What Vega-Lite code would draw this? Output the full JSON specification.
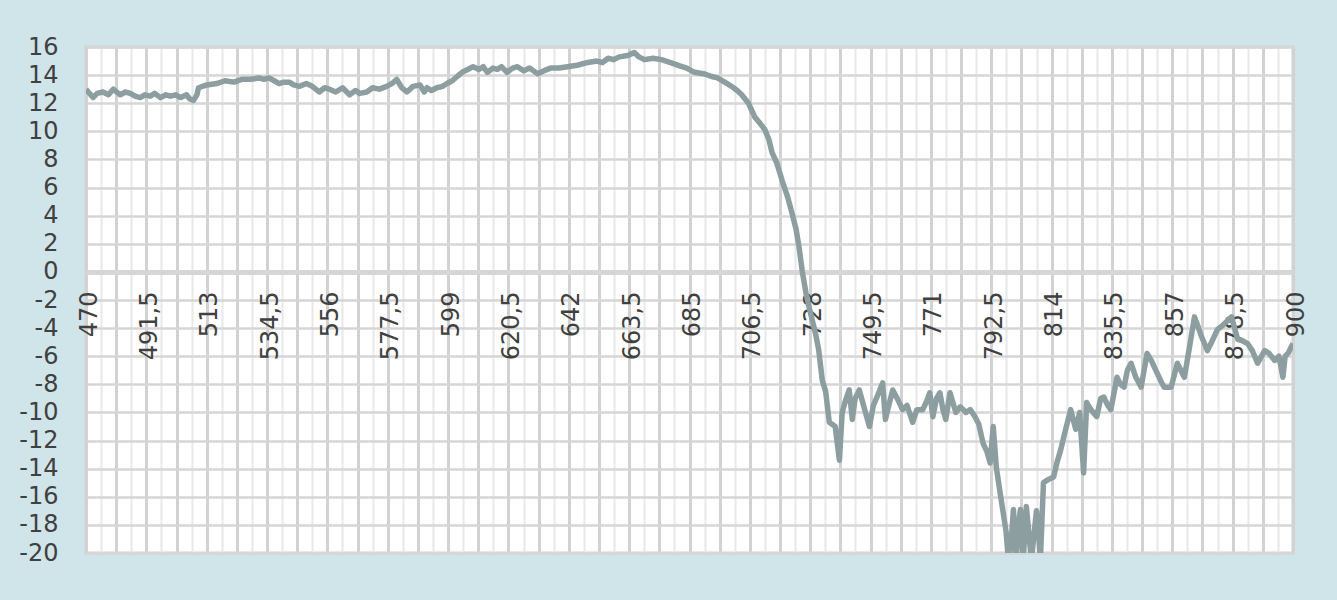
{
  "$schema": "https://vega.github.io/schema/vega-lite/v6.json",
  "width": 1207,
  "height": 506,
  "autosize": {"type": "none"},
  "padding": {"left": 86, "top": 47, "right": 44, "bottom": 47},
  "background": "#d0e5e9",
  "config": {"view": {"fill": "white", "stroke": "#d4d4d4", "strokeWidth": 3}},
  "data": {"values": [
    {"wl": 470, "v": 13.0}, {"wl": 472.5, "v": 12.4}, {"wl": 474, "v": 12.7}, {"wl": 476, "v": 12.8}, {"wl": 478, "v": 12.6},
    {"wl": 479.7, "v": 13.0}, {"wl": 482.2, "v": 12.6}, {"wl": 484, "v": 12.8}, {"wl": 485.8, "v": 12.7}, {"wl": 487.5, "v": 12.5},
    {"wl": 489.3, "v": 12.4}, {"wl": 491, "v": 12.6}, {"wl": 492.9, "v": 12.5}, {"wl": 494.5, "v": 12.7}, {"wl": 496.5, "v": 12.4},
    {"wl": 498.5, "v": 12.6}, {"wl": 500.1, "v": 12.5}, {"wl": 502, "v": 12.6}, {"wl": 503.7, "v": 12.4}, {"wl": 505.8, "v": 12.6},
    {"wl": 507, "v": 12.3}, {"wl": 508.3, "v": 12.2}, {"wl": 509.5, "v": 12.6}, {"wl": 510.1, "v": 13.1}, {"wl": 513, "v": 13.3},
    {"wl": 516.6, "v": 13.4}, {"wl": 519.5, "v": 13.6}, {"wl": 522.7, "v": 13.5}, {"wl": 525.5, "v": 13.7}, {"wl": 528.8, "v": 13.7},
    {"wl": 531.6, "v": 13.8}, {"wl": 533.4, "v": 13.7}, {"wl": 535.2, "v": 13.8}, {"wl": 537, "v": 13.6}, {"wl": 538.8, "v": 13.4},
    {"wl": 540.5, "v": 13.5}, {"wl": 542.4, "v": 13.5}, {"wl": 544, "v": 13.3}, {"wl": 546, "v": 13.2}, {"wl": 548.5, "v": 13.4},
    {"wl": 550.6, "v": 13.2}, {"wl": 553.1, "v": 12.8}, {"wl": 555, "v": 13.1}, {"wl": 556.7, "v": 13.0}, {"wl": 559, "v": 12.8},
    {"wl": 561.4, "v": 13.1}, {"wl": 563.9, "v": 12.6}, {"wl": 566, "v": 12.9}, {"wl": 567.5, "v": 12.7}, {"wl": 570, "v": 12.8},
    {"wl": 572.1, "v": 13.1}, {"wl": 574.5, "v": 13.0}, {"wl": 577.1, "v": 13.2}, {"wl": 579, "v": 13.4}, {"wl": 580.7, "v": 13.7},
    {"wl": 582.5, "v": 13.1}, {"wl": 584.3, "v": 12.8}, {"wl": 586.5, "v": 13.2}, {"wl": 589, "v": 13.3}, {"wl": 590.5, "v": 12.8},
    {"wl": 591.5, "v": 13.1}, {"wl": 593, "v": 12.9}, {"wl": 595, "v": 13.1}, {"wl": 597, "v": 13.2}, {"wl": 598.6, "v": 13.4},
    {"wl": 600.5, "v": 13.6}, {"wl": 602.2, "v": 13.9}, {"wl": 604, "v": 14.2}, {"wl": 606, "v": 14.4}, {"wl": 607.9, "v": 14.6},
    {"wl": 610, "v": 14.4}, {"wl": 611.5, "v": 14.6}, {"wl": 613, "v": 14.2}, {"wl": 615, "v": 14.5}, {"wl": 616.5, "v": 14.4},
    {"wl": 618, "v": 14.6}, {"wl": 620, "v": 14.2}, {"wl": 622, "v": 14.5}, {"wl": 623.7, "v": 14.6}, {"wl": 626, "v": 14.3},
    {"wl": 628, "v": 14.5}, {"wl": 630.9, "v": 14.1}, {"wl": 633, "v": 14.3}, {"wl": 635.5, "v": 14.5}, {"wl": 638.5, "v": 14.5},
    {"wl": 641.6, "v": 14.6}, {"wl": 645, "v": 14.7}, {"wl": 648.8, "v": 14.9}, {"wl": 652, "v": 15.0}, {"wl": 654, "v": 14.9},
    {"wl": 656, "v": 15.2}, {"wl": 658, "v": 15.1}, {"wl": 660, "v": 15.3}, {"wl": 663, "v": 15.4}, {"wl": 665.3, "v": 15.6},
    {"wl": 667, "v": 15.3}, {"wl": 668.9, "v": 15.1}, {"wl": 672, "v": 15.2}, {"wl": 675, "v": 15.1}, {"wl": 678, "v": 14.9},
    {"wl": 681, "v": 14.7}, {"wl": 684, "v": 14.5}, {"wl": 686.8, "v": 14.2}, {"wl": 690, "v": 14.1}, {"wl": 692.9, "v": 13.9},
    {"wl": 695, "v": 13.8}, {"wl": 697.5, "v": 13.5}, {"wl": 700, "v": 13.2}, {"wl": 702, "v": 12.9}, {"wl": 703.6, "v": 12.6},
    {"wl": 706, "v": 12.0}, {"wl": 708.3, "v": 11.0}, {"wl": 710, "v": 10.6}, {"wl": 711.9, "v": 10.1}, {"wl": 713.3, "v": 9.4},
    {"wl": 714.4, "v": 8.5}, {"wl": 716, "v": 7.8}, {"wl": 718, "v": 6.5}, {"wl": 720, "v": 5.3}, {"wl": 721.5, "v": 4.2},
    {"wl": 723, "v": 3.0}, {"wl": 724, "v": 1.8}, {"wl": 725.2, "v": 0}, {"wl": 726.5, "v": -1.5}, {"wl": 727.6, "v": -2.5},
    {"wl": 729.8, "v": -4.3}, {"wl": 731, "v": -5.5}, {"wl": 732.3, "v": -7.7}, {"wl": 733.5, "v": -8.5}, {"wl": 734.8, "v": -10.7},
    {"wl": 736.9, "v": -11.0}, {"wl": 738.4, "v": -13.4}, {"wl": 739.4, "v": -10.0}, {"wl": 740.5, "v": -9.2}, {"wl": 741.9, "v": -8.4},
    {"wl": 743, "v": -10.5}, {"wl": 744, "v": -9.0}, {"wl": 745.5, "v": -8.4}, {"wl": 747, "v": -9.5}, {"wl": 749.1, "v": -11.0},
    {"wl": 750.5, "v": -9.5}, {"wl": 752, "v": -8.8}, {"wl": 753.8, "v": -7.9}, {"wl": 754.8, "v": -10.5}, {"wl": 756, "v": -9.5},
    {"wl": 757.4, "v": -8.4}, {"wl": 759, "v": -9.0}, {"wl": 760.9, "v": -9.8}, {"wl": 762.5, "v": -9.5}, {"wl": 764.5, "v": -10.7},
    {"wl": 766, "v": -9.8}, {"wl": 768.1, "v": -9.8}, {"wl": 769.5, "v": -9.2}, {"wl": 770.6, "v": -8.6}, {"wl": 771.7, "v": -10.3},
    {"wl": 773, "v": -9.0}, {"wl": 774.2, "v": -8.6}, {"wl": 775.3, "v": -9.8}, {"wl": 776.3, "v": -10.5}, {"wl": 777.8, "v": -8.6},
    {"wl": 779.9, "v": -10.0}, {"wl": 781.5, "v": -9.6}, {"wl": 783.5, "v": -10.0}, {"wl": 785, "v": -9.8}, {"wl": 786.7, "v": -10.3},
    {"wl": 788, "v": -10.8}, {"wl": 789.6, "v": -12.2}, {"wl": 791, "v": -12.8}, {"wl": 792.1, "v": -13.6}, {"wl": 793.2, "v": -11.0},
    {"wl": 794.3, "v": -13.9}, {"wl": 795.5, "v": -15.5}, {"wl": 796.8, "v": -17.2}, {"wl": 797.8, "v": -18.5}, {"wl": 798.6, "v": -20.5},
    {"wl": 799.5, "v": -19.5}, {"wl": 800.4, "v": -16.9}, {"wl": 801.4, "v": -20.5}, {"wl": 802.2, "v": -18.0}, {"wl": 802.9, "v": -16.9},
    {"wl": 803.9, "v": -20.5}, {"wl": 805, "v": -16.7}, {"wl": 806.8, "v": -20.5}, {"wl": 808.6, "v": -17.0}, {"wl": 809.5, "v": -19.0},
    {"wl": 810, "v": -20.5}, {"wl": 811.1, "v": -15.0}, {"wl": 812.5, "v": -14.8}, {"wl": 814.7, "v": -14.6}, {"wl": 816, "v": -13.5},
    {"wl": 817.2, "v": -12.7}, {"wl": 819, "v": -11.2}, {"wl": 820.8, "v": -9.8}, {"wl": 822.6, "v": -11.2}, {"wl": 824, "v": -10.0},
    {"wl": 825.4, "v": -14.3}, {"wl": 826.5, "v": -9.3}, {"wl": 828, "v": -9.8}, {"wl": 830.1, "v": -10.3}, {"wl": 831.5, "v": -9.0},
    {"wl": 832.6, "v": -8.9}, {"wl": 834, "v": -9.5}, {"wl": 835.1, "v": -9.8}, {"wl": 837.3, "v": -7.5}, {"wl": 838.5, "v": -8.0},
    {"wl": 839.8, "v": -8.2}, {"wl": 841, "v": -7.0}, {"wl": 842.3, "v": -6.5}, {"wl": 844, "v": -7.5}, {"wl": 845.9, "v": -8.2},
    {"wl": 848, "v": -5.8}, {"wl": 849.5, "v": -6.3}, {"wl": 851.6, "v": -7.2}, {"wl": 853, "v": -7.8}, {"wl": 854.1, "v": -8.2},
    {"wl": 856.6, "v": -8.2}, {"wl": 858.8, "v": -6.5}, {"wl": 861.3, "v": -7.5}, {"wl": 863, "v": -5.5}, {"wl": 864.9, "v": -3.2},
    {"wl": 866, "v": -3.8}, {"wl": 867.4, "v": -4.6}, {"wl": 869.5, "v": -5.6}, {"wl": 871, "v": -5.0}, {"wl": 873.1, "v": -4.1},
    {"wl": 875, "v": -3.8}, {"wl": 878.1, "v": -3.2}, {"wl": 880.3, "v": -4.8}, {"wl": 882, "v": -4.9}, {"wl": 883.8, "v": -5.1},
    {"wl": 885.5, "v": -5.6}, {"wl": 887.4, "v": -6.5}, {"wl": 889.9, "v": -5.6}, {"wl": 891.5, "v": -5.8}, {"wl": 893.5, "v": -6.3},
    {"wl": 895, "v": -6.0}, {"wl": 896.4, "v": -7.5}, {"wl": 897.2, "v": -6.0}, {"wl": 898.2, "v": -5.8}, {"wl": 900, "v": -5.1}
  ]},
  "mark": {"type": "line", "color": "#8d9ea1", "strokeWidth": 5.5, "clip": true, "strokeJoin": "round"},
  "encoding": {
    "x": {
      "field": "wl", "type": "quantitative",
      "scale": {"domain": [470, 900], "nice": false, "zero": false},
      "axis": {
        "title": null,
        "values": [470, 475.375, 480.75, 486.125, 491.5, 496.875, 502.25, 507.625, 513, 518.375, 523.75, 529.125, 534.5, 539.875, 545.25, 550.625, 556, 561.375, 566.75, 572.125, 577.5, 582.875, 588.25, 593.625, 599, 604.375, 609.75, 615.125, 620.5, 625.875, 631.25, 636.625, 642, 647.375, 652.75, 658.125, 663.5, 668.875, 674.25, 679.625, 685, 690.375, 695.75, 701.125, 706.5, 711.875, 717.25, 722.625, 728, 733.375, 738.75, 744.125, 749.5, 754.875, 760.25, 765.625, 771, 776.375, 781.75, 787.125, 792.5, 797.875, 803.25, 808.625, 814, 819.375, 824.75, 830.125, 835.5, 840.875, 846.25, 851.625, 857, 862.375, 867.75, 873.125, 878.5, 883.875, 889.25, 894.625, 900],
        "offset": -281,
        "grid": true,
        "gridColor": {"condition": {"test": "(datum.value - 470) % 10.75 == 0", "value": "#d2d2d2"}, "value": "#e8e8e8"},
        "gridWidth": {"condition": {"test": "(datum.value - 470) % 10.75 == 0", "value": 3}, "value": 2},
        "ticks": false,
        "domainColor": "#d6d6d6",
        "domainWidth": 5,
        "labelExpr": "(datum.value - 470) % 21.5 == 0 ? replace(toString(datum.value), '.', ',') : ''",
        "labelAngle": -90,
        "labelFont": "DejaVu Sans",
        "labelFontSize": 24,
        "labelColor": "#404040",
        "labelPadding": 19,
        "labelOffset": 3,
        "labelOverlap": false,
        "labelBound": false,
        "labelFlush": false
      }
    },
    "y": {
      "field": "v", "type": "quantitative",
      "scale": {"domain": [-20, 16], "nice": false, "zero": false},
      "axis": {
        "title": null,
        "values": [-20, -18, -16, -14, -12, -10, -8, -6, -4, -2, 0, 2, 4, 6, 8, 10, 12, 14, 16],
        "labelExpr": "toString(datum.value)",
        "grid": true,
        "gridColor": "#d6d6d6",
        "gridWidth": 2.5,
        "domain": false,
        "ticks": false,
        "labelFont": "DejaVu Sans",
        "labelFontSize": 24,
        "labelColor": "#404040",
        "labelPadding": 28,
        "labelFlush": false,
        "labelOverlap": false,
        "labelBound": false
      }
    }
  }
}
